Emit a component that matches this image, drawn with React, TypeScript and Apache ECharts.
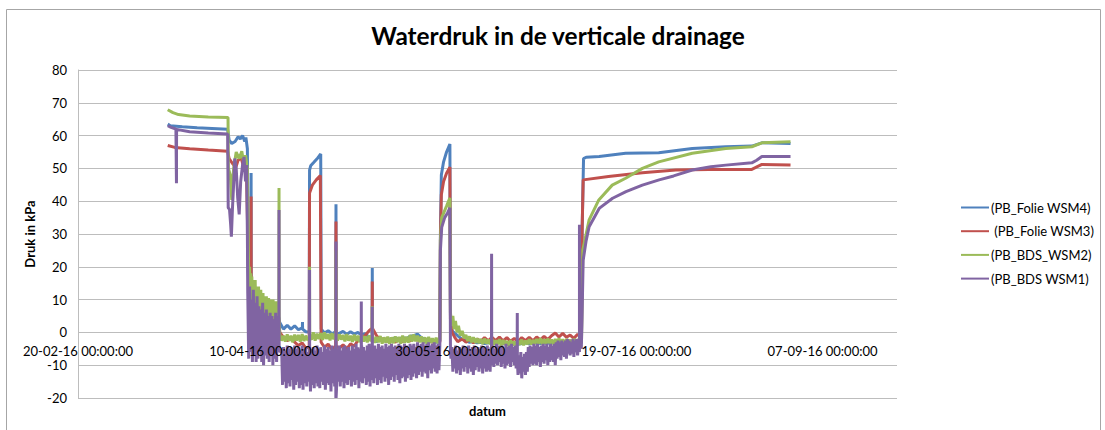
import React, { useEffect, useRef } from 'react';
import * as echarts from 'echarts';

type Pt = [number, number];
type Spike = [number, number, number]; // [day, base, peak]

// x values are days after 20-02-16 (Excel date axis 20-02-16 .. +220 days, major unit 50 days)
const xTickLabels = ['20-02-16 00:00:00', '10-04-16 00:00:00', '30-05-16 00:00:00', '19-07-16 00:00:00', '07-09-16 00:00:00'];
const seriesNames = ['(PB_Folie WSM4)', ' (PB_Folie WSM3)', '(PB_BDS_WSM2)', '(PB_BDS WSM1)'];
const seriesColors = ['#4F81BD', '#C0504D', '#9BBB59', '#8064A2'];

// helper: regularly logged samples
const run = (start: number, step: number, values: number[]): Pt[] =>
  values.map((v, i) => [Math.round((start + i * step) * 1000) / 1000, v]);

// ---------- (PB_Folie WSM4) blue ----------
const blueMain: Pt[] = [
  [24.1, 63.5], [24.8, 63.0], [28, 62.7], [32, 62.4], [36, 62.2], [40.2, 61.9], [40.6, 58.6], [41.3, 57.6],
  [42.2, 58.2], [43.0, 59.6], [43.6, 59.0], [44.2, 60.0], [44.8, 58.2], [45.1, 59.4], [45.5, 56.0], [45.7, 20],
  [46.0, 8], [46.8, 6], [47.5, 11], [48.5, 7], [49.5, 8], [50.5, 5], [51.5, 7.5], [52.5, 5], [53.5, 7], [54.0, 4],
  [62.1, 0], [62.2, 49.5], [62.5, 50.8], [63.3, 51.8], [64.4, 53.2], [65.2, 54.4], [65.35, 1],
  [97.25, -2.8], [97.35, 30], [97.6, 48], [98.2, 52], [99, 55], [99.9, 57.4], [100.05, 5], [100.5, 0.5],
  [101.5, -0.5], [103, -2.0],
  [135.25, -3.2], [135.4, 30], [135.8, 53.0], [136.5, 53.4], [140, 53.6], [147.1, 54.6], [156, 54.8],
  [165, 56.1], [174, 56.6], [181, 56.8], [183.7, 57.8], [191.4, 57.6],
];
const blueNoiseA = [3, 1.0, 2.2, 1.0, 2.0, 0.8, 1.4, 0.2];
const blueNoiseB = [-0.2, 0.5, -0.4, 0.2, -0.3, 0.3, -0.6, 0.2, -0.5, 0.0, -0.8, -0.4, -1.5, -2.2, -2.8, -2.0,
  -2.6, -1.8, -2.4, -1.6, -2.2, -1.5, -2.0, -1.2, -1.0, -0.5, -1.6, -2.2, -2.8, -2.4, -3.0, -2.6];
const blueNoiseC = [-2.6, -3.0, -2.8, -3.2, -3.0, -3.4, -3.2, -3.0, -3.3, -3.1, -3.4, -3.2, -3.5, -3.3, -3.6, -3.4,
  -3.2, -3.5, -3.3, -3.1, -3.4, -3.2, -3.3, -3.0, -3.2, -2.9, -3.1, -3.0, -3.2, -3.0, -3.3];
const blueSpikes: Spike[] = [[46.5, 7, 48.6], [60.3, 1.0, 3.2], [69.3, -0.3, 39.1], [79.05, -1.5, 19.6]];

// ---------- (PB_Folie WSM3) red ----------
const redMain: Pt[] = [
  [24.1, 57.0], [26, 56.4], [30, 56.0], [35, 55.6], [40.2, 55.2], [40.6, 53.0], [41.5, 51.5], [42.4, 50.3],
  [43.0, 52.5], [43.8, 53.2], [44.5, 50.5], [45.2, 52.0], [45.6, 30], [46.0, 5], [46.8, 4], [47.5, 10], [48.5, 6],
  [49.5, 8], [50.5, 5], [51.5, 7], [52.5, 4], [53.5, 6], [54.0, 2],
  [62.1, -4.5], [62.2, 42.5], [63.0, 45], [64, 46.5], [65.1, 47.8], [65.3, -3],
  [97.25, -3.0], [97.35, 28], [97.6, 42], [98.2, 46], [99, 48.5], [99.9, 50.4], [100.05, 4], [100.5, 0],
  [101.2, -1.5], [102, -2.8], [103.2, -2.0],
  [135.25, -1.5], [135.4, 30], [135.7, 46.5], [142.5, 47.5], [151.6, 48.7], [160.6, 49.5], [169.5, 49.7],
  [181, 49.7], [183.7, 51.2], [191.4, 51.0],
];
const redNoiseA = [0, -1.5, -2.5, -1.8, -3.0, -4.0, -3.2, -4.8];
const redNoiseB = [-4.5, -3.6, -5.2, -4.2, -4.8, -3.8, -5.0, -3.5, -4.2, -2.4, -2.0, -0.8, 0.5, 1.3, -1.0, -2.4,
  -1.8, -2.8, -2.0, -3.0, -2.2, -2.8, -2.0, -2.6, -1.8, -2.4, -1.9, -2.7, -2.2, -3.0, -2.4, -3.0];
const redNoiseC = [-3.0, -2.2, -3.2, -2.0, -2.8, -1.6, -2.6, -1.5, -2.5, -1.4, -2.6, -1.6, -2.7, -1.8, -2.8, -1.6,
  -2.5, -1.5, -2.6, -1.4, -2.3, -1.2, -2.2, -1.0, -0.2, -1.4, -0.3, -1.5, -0.8, -1.8, -0.6];
const redSpikes: Spike[] = [[46.5, 5, 41.4], [69.3, -4.2, 33.8], [79.05, 1.3, 15.5]];

// ---------- (PB_BDS_WSM2) green ----------
const greenMain: Pt[] = [
  [24.1, 67.9], [25.5, 67.0], [27, 66.4], [30, 66.0], [35, 65.7], [40.3, 65.5], [40.4, 50], [40.9, 48],
  [41.3, 40.4], [41.8, 50], [42.5, 55], [43.3, 53], [44.0, 55.2], [44.6, 51], [45.0, 54], [45.5, 50],
  [97.25, -2.0], [97.35, 28], [97.7, 35], [99, 38.5], [99.9, 41], [100.05, 6], [100.4, 2], [100.7, 5],
  [101.0, 1], [101.4, 3.5], [101.8, 0], [102.2, 2], [102.7, -1], [103.2, 0.5], [103.7, -1.8],
  [135.25, -3.0], [135.4, 10], [135.6, 25.1], [137.3, 34.3], [139.9, 40.4], [143.5, 44.9], [147.1, 47.0],
  [151.6, 50.0], [156, 52.0], [165, 54.6], [174, 56.1], [181, 56.6], [183.7, 57.8], [191.4, 58.1],
];
const greenNoiseA = [22, 8, 20, 6, 18, 5, 17, 7, 16, 5, 15, 6, 16, 5, 14, 6, 13, 5, 14, 4, 12, 6, 13, 5, 11, 5,
  12, 4, 11, 6, 10.5, 5, 11, 4, 10, 5, 10.5, 6, 9.5, 4, 10, 5, 9.5, 4, 10, 6, 9, 5, 9.5, 4, 9, 5, 9.5, 4, 8.5];
const greenNoiseB = [
  -0.5, -2.5, -1.0, -2.8, -0.6, -2.6, -1.0, -3.0, -0.7, -2.5,
  -0.8, -2.8, -0.5, -2.6, -1.0, -2.4, -0.3, -2.2, 0.0, -2.5,
  -0.4, -2.0, -0.2, -2.3, 0.0, -2.0, -0.5, -2.4, -0.2, -2.1,
  -0.3, -2.5, -0.6, -2.2, -0.8, -2.7, -0.5, -2.5, -1.0, -2.9,
  -0.7, -2.6, -1.0, -3.0, -0.8, -2.8, -1.2, -3.0, -0.9, -2.7,
  -1.2, -3.2, -1.4, -3.0, -1.1, -3.4, -1.5, -3.2, -1.3, -3.5,
  -1.5, -3.3, -1.2, -3.0, -1.4, -3.4, -1.0, -3.2, -1.3, -3.1,
  -0.8, -2.8, -0.6, -2.7, -1.0, -3.0, -1.2, -3.3, -1.5, -3.4,
  -1.4, -3.2, -1.8, -3.5, -1.6, -3.3, -2.0,
];
const greenNoiseC = [
  -0.8, -2.6, -1.2, -3.0, -1.5, -3.2, -1.8, -3.3, -2.0, -3.5,
  -1.9, -3.4, -2.2, -3.6, -2.0, -3.8, -2.4, -3.6, -2.1, -4.0,
  -2.3, -3.8, -2.6, -4.2, -2.4, -4.0, -2.8, -4.1, -2.5, -3.8,
  -2.2, -3.9, -2.5, -3.6, -2.1, -3.7, -2.3, -3.5, -2.0, -3.4,
  -1.8, -3.6, -2.1, -3.5, -1.9, -3.3, -2.2, -3.6, -2.0, -3.4,
  -1.8, -3.5, -2.1, -3.6, -2.0, -3.3, -2.2, -3.7, -1.9, -3.5,
  -2.2,
];
const greenSpikes: Spike[] = [[54.0, 5, 44], [62.2, -1.5, 20], [69.3, -1.5, 25], [79.05, -1.5, 8]];

// ---------- (PB_BDS WSM1) purple ----------
const purpleMain: Pt[] = [
  [24.1, 63.0], [25, 62.5], [26.3, 62.0], [26.6, 61.8], [30, 61.2], [35, 60.8], [40.2, 60.5], [40.35, 38],
  [40.7, 37.5], [41.0, 33], [41.2, 29.2], [41.5, 38], [41.8, 45], [42.1, 53], [42.5, 50], [42.9, 41], [43.3, 36],
  [43.7, 46], [44.2, 51], [44.6, 53.5], [45.0, 46], [45.3, 51], [45.5, 30],
  [97.25, -4], [97.35, 25], [97.7, 32], [98.5, 35], [99.3, 36.5], [99.9, 38], [100.05, -6],
  [135.25, -5], [135.4, 5], [135.7, 22], [136.5, 28], [137.3, 32.2], [140, 37.8], [143.6, 40.9], [147.2, 42.9],
  [151.6, 44.9], [156.1, 46.5], [160, 47.7], [165, 49.5], [170, 50.5], [174, 51.0], [181, 51.7], [182.3, 52.5],
  [183.7, 53.6], [191.4, 53.6],
];
const purpleNoiseA = [12, -8, 14, -6, 10, -9, 13, -7, 9, -9, 11, -8, 8, -6, 7, -9, 9, -10, 6, -7, 7, -8, 5, -9,
  6, -7, 5, -10, 4, -8, 6, -9, 5];
const purpleNoiseB = [
  -5, -16, -4.5, -15, -5.5, -17, -4, -15.5, -5, -16.5,
  -4.5, -14.5, -6, -17.5, -4, -16, -5, -15, -4.5, -17,
  -5.5, -16, -4, -17.5, -5, -15.5, -4.5, -16.5, -6, -15,
  -4, -18, -5, -16, -4.5, -17, -5.5, -15.5, -4, -16.5,
  -5, -17, -4.5, -15, -6, -16, -4, -17.5, -5, -15.5,
  -4.5, -16, -5.5, -18, -4, -15.5, -5, -16.5, -4.5, -17,
  -5, -15, -4, -16.5, -5.5, -15, -4.5, -17, -4, -15.5,
  -5, -16, -4.5, -14.5, -5.5, -16.5, -4, -15, -5, -16,
  -3.5, -14.5, -4.5, -17, -5, -15, -4, -15.5, -4.5, -14,
  -5.5, -16, -4, -15, -3.5, -16.5, -5, -14.5, -4.5, -15.5,
  -4, -14, -5, -16, -3.5, -14.5, -4.5, -15.5, -4, -13.5,
  -5, -15, -3.5, -14, -4.5, -16, -4, -14.5, -3.5, -13.5,
  -4.5, -15, -4, -13, -5, -14.5, -3.5, -15.5, -4, -14,
  -4.5, -13.5, -3.5, -15, -4, -14, -5, -13, -3.5, -14.5,
  -4, -13.5, -3.5, -12.5, -4.5, -14, -3, -13, -4, -12,
  -3.5, -13.5, -3, -12, -4, -12.5, -3.5, -14, -3, -11.5,
  -4, -12.5, -3.5, -11, -3, -12, -4, -12.5, -3.5, -11.5,
  -4,
];
const purpleNoiseC = [
  -8, -4.5, -12, -5, -11, -4, -12.5, -5.5, -11.5, -4.5,
  -13, -5, -11, -4, -12, -4.5, -10.5, -5, -12.5, -4,
  -11, -5.5, -12, -4.5, -13, -4, -11.5, -5, -10.5, -4.5,
  -12, -5, -11, -4, -12.5, -4.5, -11, -5.5, -12, -4,
  -11.5, -5, -12, -4.5, -10, -4, -10.5, -5, -9.5, -3.5,
  -10, -4, -9, -4.5, -10.5, -4, -9.5, -5, -11, -3.5,
  -10, -4.5, -9.5, -4, -10.5, -3.5, -9, -4.5, -10, -4,
  -11, -6.5, -13, -7, -12.5, -6, -14, -7.5, -12, -6.5,
  -13, -6, -12, -4.5, -10.5, -4, -9.5, -4.5, -10, -3.5,
  -9.5, -4, -10, -3.5, -9, -4.5, -10.5, -4, -9, -3.5,
  -9.5, -4, -8.5, -3.5, -10, -4.5, -9, -3.5, -8.5, -4,
  -9, -3.5, -10, -3, -8, -2.5, -7.5, -3, -8.5, -2.5,
  -7, -3, -7.5, -2.5, -8, -2, -6.5, -2.5, -7, -3,
  -6.5, -2, -7.5, -2.5, -6, -2, -7, -3, -6, -2.5,
  -5,
];
const purpleSpikes: Spike[] = [
  [26.45, 61.9, 45.5], [54.0, -6, 37.3], [62.2, -8, 19], [69.3, -20, 27.7], [76.1, -8, 9.4],
  [79.05, -8, 7.8], [111.1, -8, 24], [118.0, -9, 5.9], [134.7, -5, 32.8],
];

const spikePts = (s: Spike[]): Pt[] =>
  s.flatMap(([d, b, p]) => [[d - 0.03, b], [d, p], [d + 0.03, b]] as Pt[]);
const build = (parts: Pt[][]): Pt[] => ([] as Pt[]).concat(...parts).sort((a, b) => a[0] - b[0]);

const blueData = build([blueMain, run(54.2, 1, blueNoiseA), run(66.2, 1, blueNoiseB), run(104.2, 1, blueNoiseC), spikePts(blueSpikes)]);
const redData = build([redMain, run(54.2, 1, redNoiseA), run(66.2, 1, redNoiseB), run(104.2, 1, redNoiseC), spikePts(redSpikes)]);
const greenData = build([greenMain, run(45.8, 0.15, greenNoiseA), run(54.2, 0.5, greenNoiseB), run(104.2, 0.5, greenNoiseC), spikePts(greenSpikes)]);
const purpleData = build([purpleMain, run(45.6, 0.25, purpleNoiseA), run(54.7, 0.25, purpleNoiseB), run(100.2, 0.25, purpleNoiseC), spikePts(purpleSpikes)]);

const allData = [blueData, redData, greenData, purpleData];

const FONT = 'Lato, "Open Sans", sans-serif';

export default function App() {
  const ref = useRef<HTMLDivElement>(null);
  useEffect(() => {
    const chart = echarts.init(ref.current!, null, { renderer: 'svg' });
    chart.setOption({
      animation: false,
      backgroundColor: '#ffffff',
      textStyle: { fontFamily: FONT },
      graphic: [
        {
          type: 'rect', z: -10, silent: true,
          shape: { x: 6.5, y: 9.5, width: 1094, height: 440 },
          style: { fill: 'none', stroke: '#a6a6a6', lineWidth: 1 },
        },
        {
          type: 'text', x: 558, y: 35, z: 10,
          style: {
            text: 'Waterdruk in de verticale drainage', align: 'center', verticalAlign: 'middle',
            fontFamily: FONT, fontWeight: 'bold', fontSize: 24.4, fill: '#000',
          },
        },
      ],
      grid: { left: 78, top: 70, width: 819, height: 328, containLabel: false, outerBoundsMode: 'none' },
      legend: {
        orient: 'vertical', left: 955, top: 196,
        itemWidth: 28, itemHeight: 14, itemGap: 10.7,
        itemStyle: { opacity: 0 },
        textStyle: { fontFamily: FONT, fontSize: 13, color: '#000', padding: [0, 0, 0, -3] },
        data: seriesNames,
      },
      xAxis: {
        type: 'value', min: 0, max: 220, interval: 50, z: 5,
        name: 'datum', nameLocation: 'middle', nameGap: 6,
        nameTextStyle: { fontFamily: FONT, fontWeight: 'bold', fontSize: 13, color: '#000' },
        axisLine: { show: false, onZero: false },
        axisTick: { show: false },
        splitLine: { show: false },
        axisLabel: {
          margin: -54, fontSize: 13, color: '#000', fontFamily: FONT,
          formatter: (v: number) => (v % 50 === 0 ? xTickLabels[v / 50] ?? '' : ''),
        },
      },
      yAxis: {
        type: 'value', min: -20, max: 80, interval: 10,
        name: 'Druk in kPa', nameLocation: 'middle', nameGap: 33,
        nameTextStyle: { fontFamily: FONT, fontWeight: 'bold', fontSize: 13, color: '#000' },
        axisLine: { show: true, lineStyle: { color: '#bdbdbd', width: 1 } },
        axisTick: { show: false },
        splitLine: { show: true, lineStyle: { color: '#bdbdbd', width: 1 } },
        axisLabel: { margin: 11, fontSize: 13, color: '#000', fontFamily: FONT },
      },
      series: seriesNames.map((name, i) => ({
        name, type: 'line', data: allData[i], showSymbol: false, symbol: 'none',
        color: seriesColors[i],
        lineStyle: { color: seriesColors[i], width: 3 },
        z: 2 + i * 0.01,
      })),
    });
    return () => chart.dispose();
  }, []);
  return (
    <div
      ref={ref}
      style={{ position: 'absolute', left: 0, top: 0, width: 1105, height: 430, background: '#fff' }}
    />
  );
}
